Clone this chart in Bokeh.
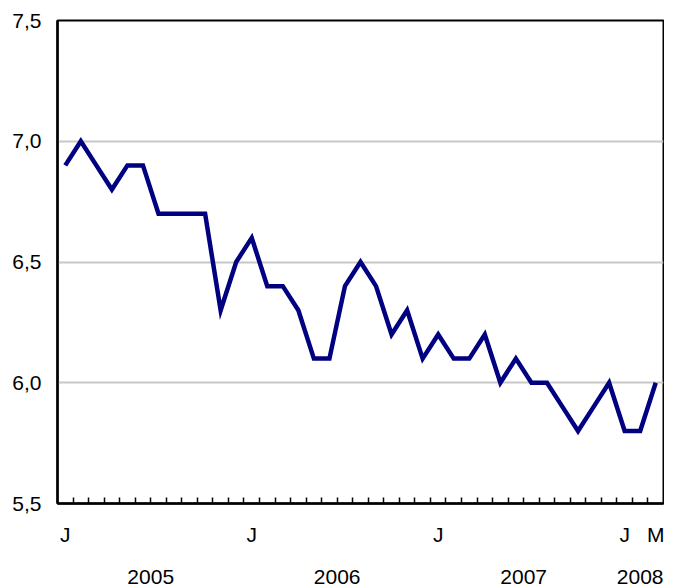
from bokeh.plotting import figure
from bokeh.models import FixedTicker, LinearAxis, Range1d
from bokeh.embed import file_html
from bokeh.resources import INLINE

# Monthly values, Jan 2005 .. Mar 2008
values = [6.9, 7.0, 6.9, 6.8, 6.9, 6.9, 6.7, 6.7, 6.7, 6.7, 6.3, 6.5,
          6.6, 6.4, 6.4, 6.3, 6.1, 6.1, 6.4, 6.5, 6.4, 6.2, 6.3, 6.1,
          6.2, 6.1, 6.1, 6.2, 6.0, 6.1, 6.0, 6.0, 5.9, 5.8, 5.9, 6.0,
          5.8, 5.8, 6.0]
months = list(range(len(values)))
month_label_pos = [0, 12, 24, 36, 38]
month_labels = ["J", "J", "J", "J", "M"]
year_label_pos = [5.5, 17.5, 29.5, 37]
year_labels = ["2005", "2006", "2007", "2008"]
y_ticks = [5.5, 6.0, 6.5, 7.0, 7.5]
y_tick_labels = ["5,5", "6,0", "6,5", "7,0", "7,5"]

FONT = "Liberation Sans"
FS = "21px"

p = figure(width=664, height=586, output_backend="svg", toolbar_location=None,
           x_range=Range1d(-0.5, len(values) - 0.5), y_range=Range1d(5.5, 7.5),
           min_border_left=57, min_border_right=1, min_border_top=20, min_border_bottom=77,
           x_axis_location=None, y_axis_location=None)
p.background_fill_color = "white"
p.border_fill_color = "white"
p.outline_line_color = "black"
p.outline_line_width = 2

# y axis
yax = LinearAxis(ticker=FixedTicker(ticks=y_ticks))
yax.major_label_overrides = {t: l for t, l in zip(y_ticks, y_tick_labels)}
yax.major_tick_line_color = None
yax.minor_tick_line_color = None
yax.axis_line_color = "black"
yax.axis_line_width = 2.5
yax.major_label_text_font = FONT
yax.major_label_text_font_size = FS
yax.major_label_text_color = "black"
yax.major_label_standoff = 10
p.add_layout(yax, "left")

# x axis: month ticks at boundaries, labels J/M
xax = LinearAxis(ticker=FixedTicker(ticks=month_label_pos,
                                    minor_ticks=[m + 0.5 for m in months[:-1]]))
xax.major_label_overrides = {t: l for t, l in zip(month_label_pos, month_labels)}
xax.major_tick_line_color = None
xax.major_tick_in = 0
xax.major_tick_out = 0
xax.minor_tick_in = 6
xax.minor_tick_out = 0
xax.minor_tick_line_color = "black"
xax.minor_tick_line_width = 1.5
xax.axis_line_color = "black"
xax.axis_line_width = 2.5
xax.major_label_text_font = FONT
xax.major_label_text_font_size = FS
xax.major_label_text_color = "black"
xax.major_label_standoff = 19
p.add_layout(xax, "below")

# year labels
yrax = LinearAxis(ticker=FixedTicker(ticks=year_label_pos, minor_ticks=[]))
yrax.major_label_overrides = {t: l for t, l in zip(year_label_pos, year_labels)}
yrax.major_tick_line_color = None
yrax.minor_tick_line_color = None
yrax.major_tick_in = 0
yrax.major_tick_out = 0
yrax.axis_line_color = None
yrax.major_label_text_font = FONT
yrax.major_label_text_font_size = FS
yrax.major_label_text_color = "black"
yrax.major_label_standoff = 21
p.add_layout(yrax, "below")

# grid
p.ygrid.ticker = FixedTicker(ticks=[6.0, 6.5, 7.0])
p.ygrid.grid_line_color = "#c8c8c8"
p.ygrid.grid_line_width = 2
p.xgrid.grid_line_color = None

p.line(months, values, line_color="#000080", line_width=4.5, line_join="miter")

open("out.html", "w").write(file_html(p, INLINE))
